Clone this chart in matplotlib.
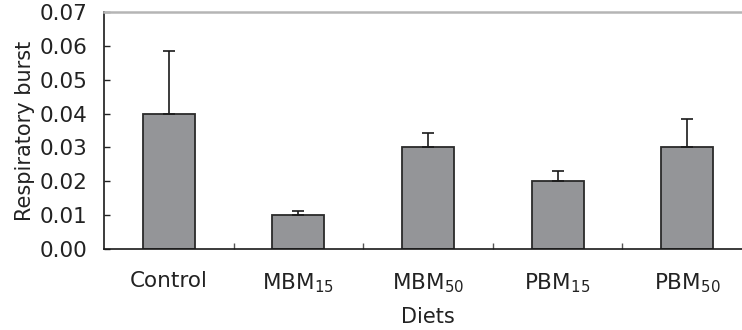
import matplotlib.pyplot as plt
import numpy as np

diets = ["Control", "MBM$_{\\mathregular{15}}$", "MBM$_{\\mathregular{50}}$",
         "PBM$_{\\mathregular{15}}$", "PBM$_{\\mathregular{50}}$"]
burst = [0.040, 0.010, 0.030, 0.020, 0.030]
burst_err = [0.0186, 0.0013, 0.0043, 0.0031, 0.0085]

plt.rcParams["mathtext.fontset"] = "dejavusans"
fig = plt.figure(figsize=(7.42, 3.3), dpi=100)
ax = fig.add_axes([104 / 742, 81 / 330, 648 / 742, 237 / 330])

x = np.arange(len(diets))
ax.bar(x, burst, width=0.4, color="#949598", edgecolor="#2a2a2a", linewidth=1.3, zorder=2)
ax.errorbar(x, burst, yerr=[np.zeros(len(burst)), burst_err], fmt="none",
            ecolor="#1a1a1a", elinewidth=1.2, capsize=4, capthick=1.2, zorder=3)

ax.set_xlim(-0.5, len(diets) - 0.5)
ax.set_ylim(0, 0.07)
ax.set_yticks(np.arange(0, 0.071, 0.01))
ax.set_yticklabels([f"{v:.2f}" for v in np.arange(0, 0.071, 0.01)])
ax.set_xticks(x)
ax.set_xticklabels(diets)
ax.set_xticks(np.arange(0.5, len(diets) - 0.5, 1), minor=True)

ax.tick_params(axis="y", direction="in", length=4.5, width=1.0, pad=12,
               labelsize=15.5, colors="#222222")
ax.tick_params(axis="x", which="major", length=0, pad=16, labelsize=15.5, colors="#222222")
ax.tick_params(axis="x", which="minor", direction="in", length=4.5, width=1.0, color="#555555")

ax.spines["right"].set_visible(False)
ax.spines["top"].set_color("#b5b5b5")
ax.spines["top"].set_linewidth(1.8)
for side in ("left", "bottom"):
    ax.spines[side].set_color("#1a1a1a")
    ax.spines[side].set_linewidth(1.2)

ax.set_ylabel("Respiratory burst", fontsize=15, color="#222222", labelpad=3)
ax.set_xlabel("Diets", fontsize=15, color="#222222", labelpad=9)

fig.savefig("out.png", dpi=100)
